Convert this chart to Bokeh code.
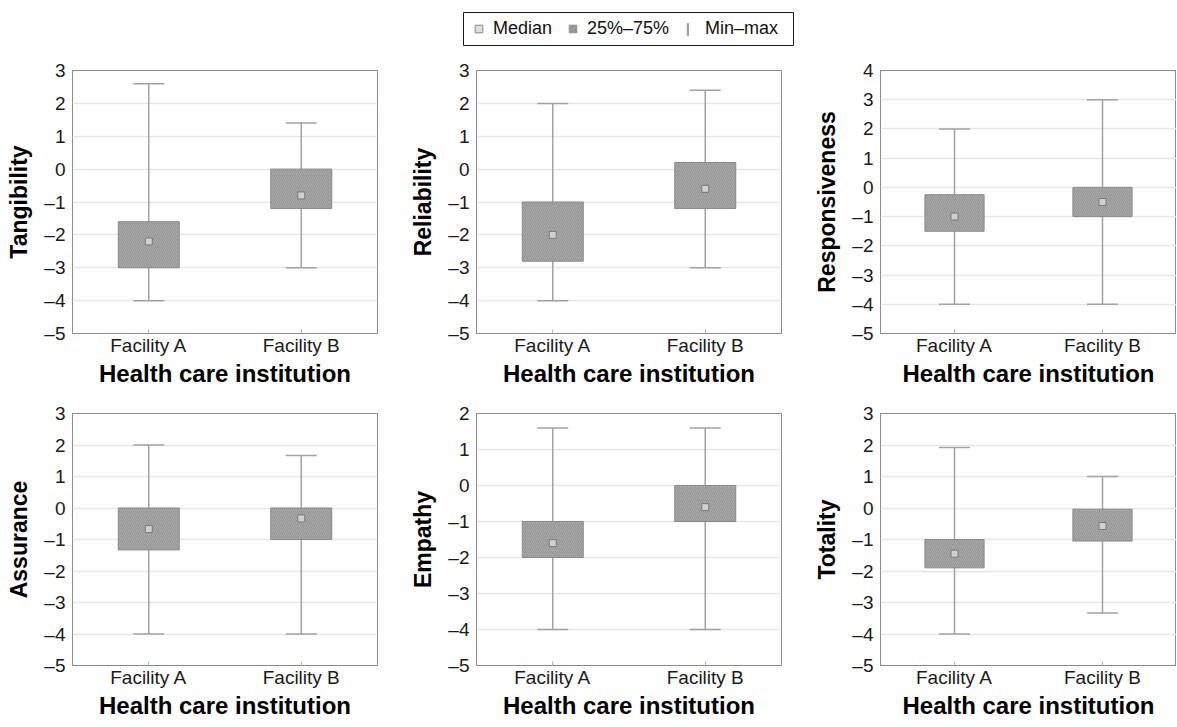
from bokeh.plotting import figure
from bokeh.layouts import column, row
from bokeh.models import (ColumnDataSource, Range1d, FactorRange, SingleIntervalTicker,
                          CustomJSTickFormatter, Legend, LegendItem)
from bokeh.embed import file_html
from bokeh.resources import INLINE

# ---------------- data ----------------
facilities = ["Facility A", "Facility B"]
dimensions = ["Tangibility", "Reliability", "Responsiveness", "Assurance", "Empathy", "Totality"]
axis_low = [-5, -5, -5, -5, -5, -5]
axis_high = [3, 3, 4, 3, 2, 3]

minimum = [[-4, -3], [-4, -3], [-4, -4], [-4, -4], [-4, -4], [-4, -3.33]]
quartile1 = [[-3, -1.2], [-2.8, -1.2], [-1.5, -1], [-1.33, -1], [-2, -1], [-1.9, -1.05]]
median = [[-2.2, -0.8], [-2, -0.6], [-1, -0.5], [-0.67, -0.33], [-1.6, -0.6], [-1.45, -0.57]]
quartile3 = [[-1.6, 0], [-1, 0.2], [-0.25, 0], [0, 0], [-1, 0], [-1, -0.04]]
maximum = [[2.6, 1.4], [2, 2.4], [2, 3], [2, 1.67], [1.6, 1.6], [1.92, 1]]

legend_labels = ["Median", "25%\u201375%", "Min\u2013max"]
x_title = "Health care institution"

# ---------------- style ----------------
FONT = "Liberation Sans"
BOX_FILL = "#a9a9a9"
BOX_LINE = "#8a8a8a"
HATCH = "#8f8f8f"
WHISK = "#a2a2a2"
MED_FILL = "#cfcfcf"
MED_LINE = "#7a7a7a"

col_width = [400, 400, 376]
col_left = [72, 76, 80]
col_right = [23, 19, 0]
row_height = [341, 323]
row_top = [13, 15]
row_bottom = [65, 56]


def panel(i):
    r, c = divmod(i, 3)
    src = ColumnDataSource(dict(x=facilities, lo=minimum[i], q1=quartile1[i], med=median[i],
                                q3=quartile3[i], hi=maximum[i]))
    p = figure(width=col_width[c], height=row_height[r],
               x_range=FactorRange(factors=facilities),
               y_range=Range1d(axis_low[i], axis_high[i]),
               output_backend="svg", toolbar_location=None,
               min_border_left=col_left[c], min_border_right=col_right[c],
               min_border_top=row_top[r], min_border_bottom=row_bottom[r])
    p.outline_line_color = "#8a8a8a"
    p.outline_line_width = 1

    p.segment(x0="x", y0="lo", x1="x", y1="hi", source=src, line_color=WHISK, line_width=1.5)
    p.scatter(x="x", y="hi", marker="dash", size=31, line_color=WHISK, line_width=1.5, source=src)
    p.scatter(x="x", y="lo", marker="dash", size=31, line_color=WHISK, line_width=1.5, source=src)
    p.vbar(x="x", width=0.4, bottom="q1", top="q3", source=src,
           fill_color=BOX_FILL, line_color=BOX_LINE, line_width=1,
           hatch_pattern="right_diagonal_line", hatch_color=HATCH, hatch_scale=4, hatch_weight=0.8)
    p.scatter(x="x", y="med", marker="square", size=7, fill_color=MED_FILL,
              line_color=MED_LINE, line_width=1, source=src)

    p.xgrid.visible = False
    p.ygrid.grid_line_color = "#e6e6e6"
    p.ygrid.grid_line_width = 1.5

    p.yaxis.ticker = SingleIntervalTicker(interval=1, num_minor_ticks=0)
    p.yaxis.formatter = CustomJSTickFormatter(
        code="return tick < 0 ? '\\u2013' + Math.abs(tick) : tick.toFixed(0);")
    p.yaxis.axis_label = dimensions[i]
    p.xaxis.axis_label = x_title

    p.axis.axis_line_color = None
    p.axis.major_label_text_font = FONT
    p.axis.major_label_text_font_size = "19px"
    p.axis.major_label_text_color = "#1a1a1a"
    p.axis.axis_label_text_font = FONT
    p.axis.axis_label_text_font_style = "bold"
    p.axis.axis_label_text_color = "#000000"
    p.axis.minor_tick_line_color = None
    p.yaxis.axis_label_text_font_size = "23px"
    p.xaxis.axis_label_text_font_size = "24px"

    p.yaxis.major_tick_in = 0
    p.yaxis.major_tick_out = 0
    p.yaxis.major_label_standoff = 7
    p.yaxis.axis_label_standoff = 9

    p.xaxis.major_tick_in = 4
    p.xaxis.major_tick_out = 0
    p.xaxis.major_tick_line_color = "#b5b5b5"
    p.xaxis.major_label_standoff = 1
    p.xaxis.axis_label_standoff = 1
    return p


panels = [panel(i) for i in range(6)]

# ---------------- legend ----------------
leg = figure(width=1176, height=57, x_range=Range1d(0, 1), y_range=Range1d(0, 1),
             output_backend="svg", toolbar_location=None,
             x_axis_location=None, y_axis_location=None,
             min_border_left=463, min_border_right=383, min_border_top=12, min_border_bottom=12)
leg.grid.visible = False
leg.outline_line_color = "#1a1a1a"
leg.outline_line_width = 1

r_med = leg.scatter(x=[-1], y=[-1], marker="square", size=7, fill_color="#dddddd",
                    line_color="#8a8a8a", line_width=1)
r_box = leg.scatter(x=[-1], y=[-1], marker="square", size=7, fill_color="#9c9c9c",
                    line_color="#949494", line_width=1,
                    hatch_pattern="right_diagonal_line", hatch_color=HATCH, hatch_scale=2,
                    hatch_weight=0.6)
r_mm = leg.vbar(x=[-1], width=0.01, top=[-1], bottom=[-2], fill_color="#a0a0a0", line_color=None)

common = dict(orientation="horizontal", padding=0, margin=0, border_line_color=None,
              background_fill_alpha=0, label_text_font=FONT, label_text_font_size="18px",
              label_text_color="#111111", label_height=18)
legend1 = Legend(items=[LegendItem(label=legend_labels[0], renderers=[r_med]),
                        LegendItem(label=legend_labels[1], renderers=[r_box])],
                 location=(6, 6), glyph_width=19, glyph_height=19, label_standoff=5,
                 spacing=11, **common)
legend2 = Legend(items=[LegendItem(label=legend_labels[2], renderers=[r_mm])],
                 location=(223, 6), glyph_width=3, glyph_height=16, label_standoff=16,
                 **common)
leg.add_layout(legend1)
leg.add_layout(legend2)

layout = column(leg, row(*panels[:3]), row(*panels[3:]))

with open("out.html", "w", encoding="utf-8") as f:
    f.write(file_html(layout, INLINE))
